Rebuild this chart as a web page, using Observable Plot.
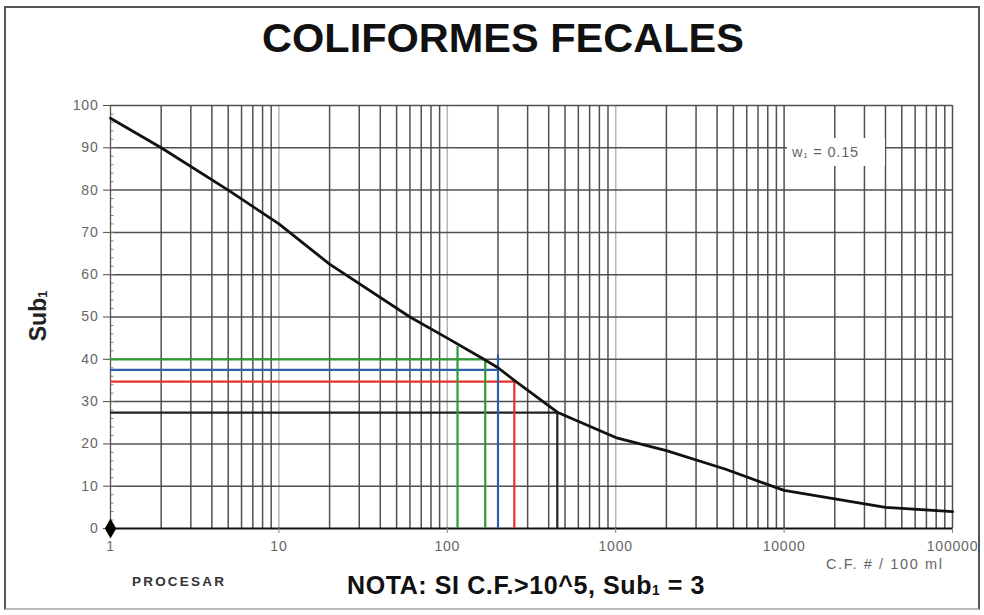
<!DOCTYPE html>
<html>
<head>
<meta charset="utf-8">
<script src="https://cdn.jsdelivr.net/npm/d3@7"></script>
<script src="https://cdn.jsdelivr.net/npm/@observablehq/plot@0.6"></script>
<style>
  html, body { margin: 0; padding: 0; background: #fff; }
  body { width: 984px; height: 615px; position: relative; overflow: hidden; font-family: "Liberation Sans", Arial, sans-serif; }
  #frame { position: absolute; left: 4px; top: 6px; width: 976px; height: 604px; border: 2px solid #555; border-bottom-color: #bbb; box-sizing: border-box; }
  #chart { position: absolute; left: 0; top: 0; }
  #chart svg g[aria-label="y-axis tick label"] text, #chart svg g[aria-label="x-axis tick label"] text { letter-spacing: 0.8px; }
  .txt { position: absolute; white-space: nowrap; }
  #title { left: 0; width: 1006px; text-align: center; top: 14px; font-size: 41.5px; font-weight: bold; color: #111; }
  #ylab { left: 38px; top: 316px; transform: translate(-50%, -50%) rotate(-90deg); font-size: 23px; font-weight: bold; color: #222; }
  #ylab sub, #nota sub, #w1 sub { font-size: 0.55em; vertical-align: -0.1em; }
  #w1 { left: 787px; top: 138px; width: 98px; height: 28px; background: #fff; font-size: 14.5px; color: #666; line-height: 28px; padding-left: 5px; box-sizing: border-box; letter-spacing: 0.8px; }
  #xunit { left: 826px; top: 556px; font-size: 14.5px; color: #666; letter-spacing: 1.6px; }
  #proc { left: 132px; top: 574px; font-size: 13.5px; font-weight: bold; color: #333; letter-spacing: 2.2px; }
  #nota { left: 347px; top: 571px; font-size: 25px; font-weight: bold; color: #111; letter-spacing: 0.6px; }
</style>
</head>
<body>
<div id="frame"></div>
<div id="chart"></div>
<div class="txt" id="title">COLIFORMES FECALES</div>
<div class="txt" id="ylab">Sub<sub>1</sub></div>
<div class="txt" id="w1">w<sub>1</sub> = 0.15</div>
<div class="txt" id="xunit">C.F. # / 100 ml</div>
<div class="txt" id="proc">PROCESAR</div>
<div class="txt" id="nota">NOTA: SI C.F.&gt;10^5, Sub<sub>1</sub> = 3</div>
<script>
// Curve data (C.F. #/100 ml vs Sub1)
const cfValues = [1, 2, 5, 10, 20, 60, 100, 165, 200, 250, 450, 1000, 2000, 4500, 10000, 40000, 100000];
const subValues = [97, 90, 80, 72, 62.5, 50, 45, 40, 38, 35, 27.5, 21.5, 18.4, 14, 9, 5, 4];

// Reading guide lines (green, blue, red, black)
const guideNames = ["green", "blue", "red", "black"];
const guideX = [168, 200, 250, 450];
const guideY = [40, 37.5, 34.7, 27.4];
const guideTop = [40, 41, 34.7, 27.4];
// Extra green vertical
const extraGuideX = [115];
const extraGuideTop = [43];

// Ticks
const xTickLabels = [1, 10, 100, 1000, 10000, 100000];
const yTickLabels = [0, 10, 20, 30, 40, 50, 60, 70, 80, 90, 100];
const yMinorTicks = d3.range(0, 100, 2);

const guideColor = {green: "#2f9a35", blue: "#2d5fa8", red: "#e8302c", black: "#222"};

const curve = cfValues.map((x, i) => ({x, y: subValues[i]}));
const guides = guideNames.map((name, i) => ({name, x: guideX[i], y: guideY[i], top: guideTop[i]}));
const extra = extraGuideX.map((x, i) => ({x, top: extraGuideTop[i]}));

const minorX = [];
for (let k = 0; k < 5; k++) for (let n = 2; n <= 9; n++) minorX.push(n * 10 ** k);
const majorX = xTickLabels;

const chart = Plot.plot({
  width: 984,
  height: 615,
  marginLeft: 110,
  marginRight: 32,
  marginTop: 105,
  marginBottom: 87,
  style: {background: "transparent", fontFamily: "Liberation Sans, Arial, sans-serif"},
  x: {type: "log", domain: [1, 100000]},
  y: {domain: [0, 100]},
  marks: [
    // vertical grid
    Plot.ruleX(minorX, {y1: 0, y2: 100, stroke: "#505050", strokeWidth: 1.5}),
    Plot.ruleX(majorX.filter(d => d > 1), {y1: 0, y2: 100, stroke: d => d >= 10000 ? "#505050" : "#b5b5b5", strokeWidth: 1.5}),
    // horizontal grid
    Plot.ruleY(yTickLabels.filter(d => d > 0), {x1: 1, x2: 100000, stroke: "#505050", strokeWidth: 1.5}),
    // y minor ticks on axis
    Plot.ruleY(yMinorTicks, {x1: 1, x2: 1.05, stroke: "#888", strokeWidth: 1}),
    // axis lines
    Plot.ruleX([1], {y1: 0, y2: 100, stroke: "#555", strokeWidth: 1.3}),
    Plot.ruleY([0], {x1: 1, x2: 100000, stroke: "#111", strokeWidth: 2}),
    // axes
    Plot.axisY(yTickLabels, {tickSize: 7, tickPadding: 5, fontSize: 14, fill: "#666", stroke: "#4a4a4a", label: null, tickFormat: d => String(d)}),
    Plot.axisX(xTickLabels, {tickSize: 5, tickPadding: 8, fontSize: 14, fill: "#666", stroke: "#888", label: null, tickFormat: d => String(d)}),
    // guide lines
    Plot.ruleY(guides, {y: "y", x1: 1, x2: "x", stroke: d => guideColor[d.name], strokeWidth: 2.2}),
    Plot.ruleX(guides, {x: "x", y1: 0, y2: "top", stroke: d => guideColor[d.name], strokeWidth: 2.2}),
    Plot.ruleX(extra, {x: "x", y1: 0, y2: "top", stroke: guideColor.green, strokeWidth: 2.2}),
    // curve
    Plot.line(curve, {x: "x", y: "y", stroke: "#111", strokeWidth: 2.8}),
    // marker at origin
    Plot.dot([{x: 1, y: 0}], {x: "x", y: "y", symbol: "diamond", r: 6, fill: "#000"})
  ]
});
document.getElementById("chart").appendChild(chart);
</script>
</body>
</html>
